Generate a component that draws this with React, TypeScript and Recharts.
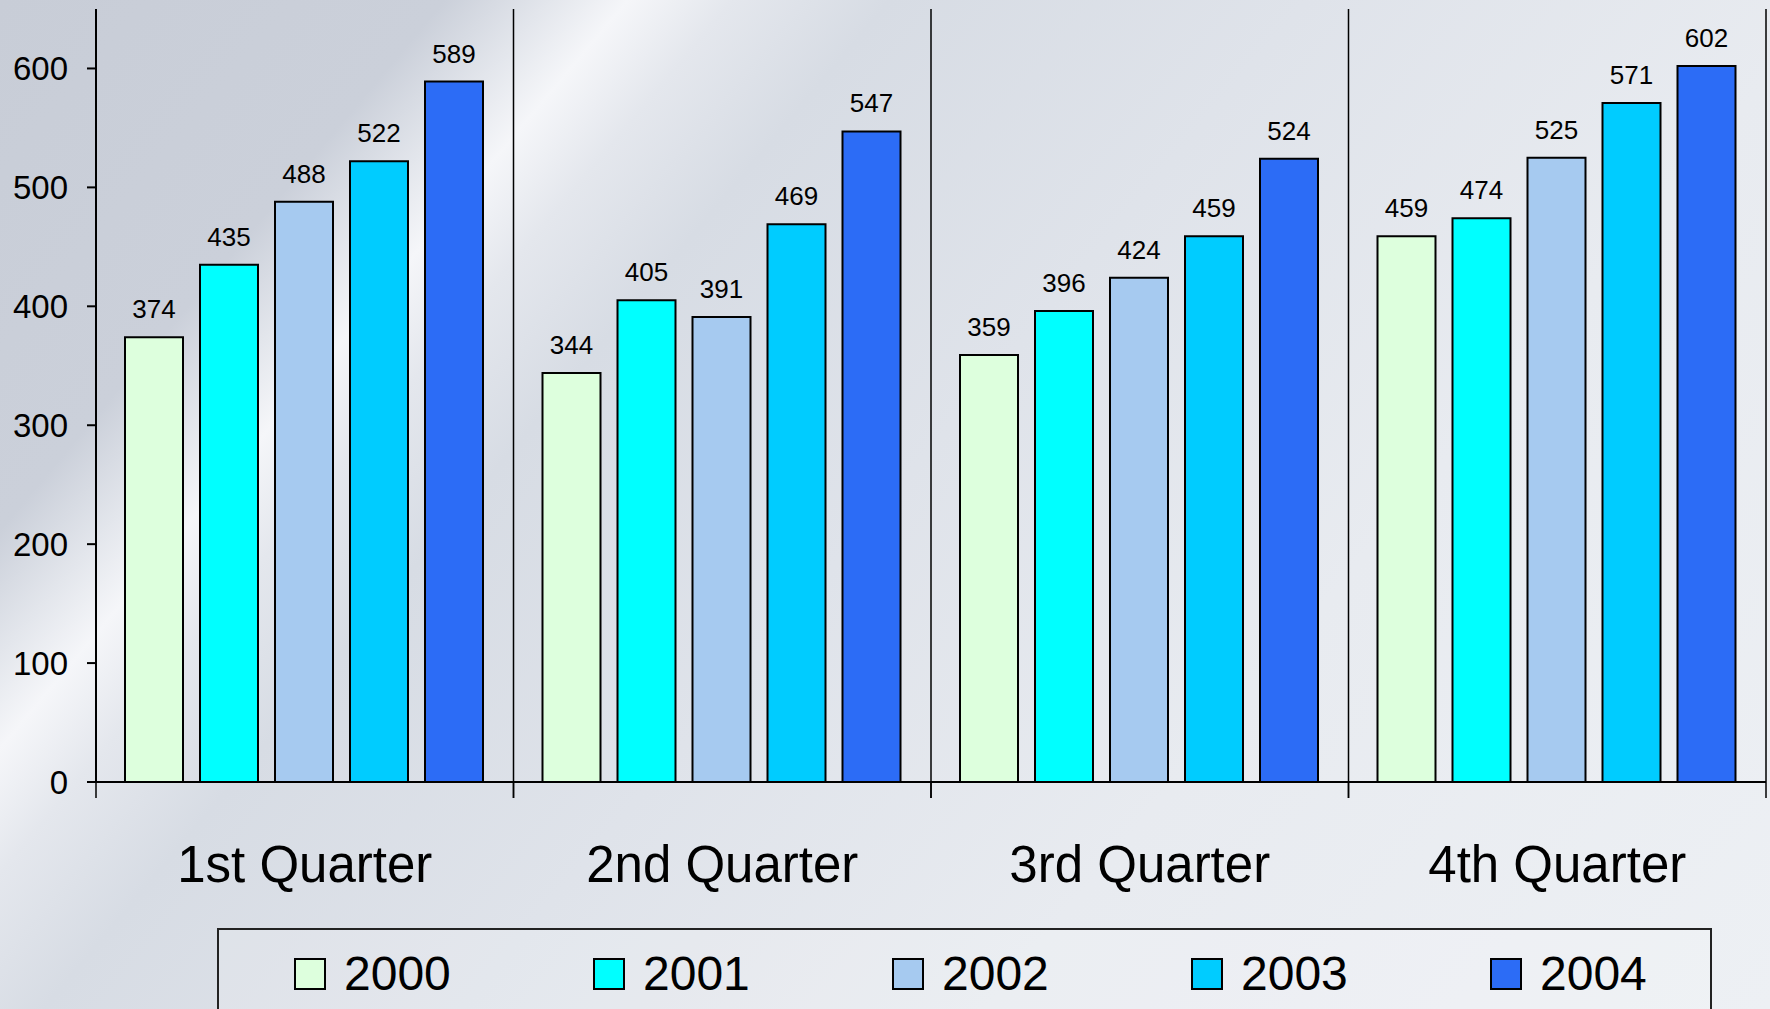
import { BarChart, Bar, XAxis, YAxis, CartesianGrid, LabelList } from "recharts";

const categories = ["1st Quarter", "2nd Quarter", "3rd Quarter", "4th Quarter"];
const years = ["2000", "2001", "2002", "2003", "2004"];
const values2000 = [374, 344, 359, 459];
const values2001 = [435, 405, 396, 474];
const values2002 = [488, 391, 424, 525];
const values2003 = [522, 469, 459, 571];
const values2004 = [589, 547, 524, 602];
const yTicks = [0, 100, 200, 300, 400, 500, 600];

const colors = ["#DDFFDD", "#00FFFF", "#A6CAF0", "#00CCFF", "#2C6CF6"];
const series = [values2000, values2001, values2002, values2003, values2004];

const data = categories.map((quarter, i) => {
  const row: Record<string, string | number> = { quarter };
  years.forEach((y, k) => {
    row[y] = series[k][i];
  });
  return row;
});

const FONT = "'Liberation Sans', Arial, sans-serif";
const W = 1770;
const H = 1009;
const M = { top: 9, right: 4, left: 0, bottom: 0 };
const Y_W = 96;
const X_H = 227;
const BAND_HALF = (W - M.left - M.right - Y_W) / categories.length / 2;

function QuarterTick(props: any) {
  const { x, y, payload } = props;
  const half = payload && payload.offset ? payload.offset : BAND_HALF;
  return (
    <g>
      <line x1={x - half} x2={x - half} y1={y - 16} y2={y} stroke="#000" strokeWidth={1.5} />
      <line x1={x + half} x2={x + half} y1={y - 16} y2={y} stroke="#000" strokeWidth={1.5} />
      <text x={x} y={y + 84} textAnchor="middle" fontSize={51} fill="#000" fontFamily={FONT}>
        {payload.value}
      </text>
    </g>
  );
}

export default function App() {
  return (
    <div
      style={{
        position: "absolute",
        left: 0,
        top: 0,
        width: W,
        height: H,
        overflow: "hidden",
        fontFamily: FONT,
        background:
          "linear-gradient(130deg, #c8cdd7 0%, #cbd0da 17%, #e3e6ec 21%, #f5f6f9 24%, #e4e7ed 28%, #d7dce4 34%, #dfe3ea 50%, #e8ebf0 70%, #edf0f4 100%)",
      }}
    >
      <BarChart
        width={W}
        height={H}
        data={data}
        margin={M}
        barCategoryGap={29}
        barGap={17}
      >
        <CartesianGrid
          horizontal={false}
          stroke="#000"
          strokeWidth={1.5}
          verticalCoordinatesGenerator={({ offset }: any) =>
            Array.from({ length: categories.length + 1 }, (_, i) => offset.left + (i * offset.width) / categories.length)
          }
        />
        <XAxis
          dataKey="quarter"
          height={X_H}
          interval={0}
          tickLine={false}
          tickSize={16}
          tickMargin={0}
          axisLine={{ stroke: "#000", strokeWidth: 2 }}
          tick={<QuarterTick />}
        />
        <YAxis
          width={Y_W}
          domain={[0, 650]}
          ticks={yTicks}
          interval={0}
          tickSize={9}
          tickMargin={19}
          axisLine={{ stroke: "#000", strokeWidth: 2 }}
          tickLine={{ stroke: "#000", strokeWidth: 2 }}
          tick={{ fontSize: 33, fill: "#000", fontFamily: FONT }}
        />
        {years.map((y, k) => (
          <Bar key={y} dataKey={y} fill={colors[k]} stroke="#000" strokeWidth={2} isAnimationActive={false}>
            <LabelList dataKey={y} position="top" offset={19} fontSize={26} fill="#000" fontFamily={FONT} />
          </Bar>
        ))}
      </BarChart>
      <div
        style={{
          position: "absolute",
          left: 217,
          top: 928,
          width: 1495,
          height: 140,
          border: "2px solid #222",
          boxSizing: "border-box",
          paddingLeft: 75,
          paddingTop: 26,
          display: "flex",
          background: "rgba(255,255,255,0.15)",
        }}
      >
        {years.map((y, k) => (
          <div
            key={y}
            style={{ width: 299, flexShrink: 0, display: "flex", alignItems: "center", height: 36 }}
          >
            <span
              style={{
                display: "inline-block",
                width: 28,
                height: 28,
                border: "2px solid #000",
                background: colors[k],
                marginRight: 18,
              }}
            />
            <span style={{ fontSize: 48, color: "#000", lineHeight: "36px" }}>{y}</span>
          </div>
        ))}
      </div>
    </div>
  );
}
